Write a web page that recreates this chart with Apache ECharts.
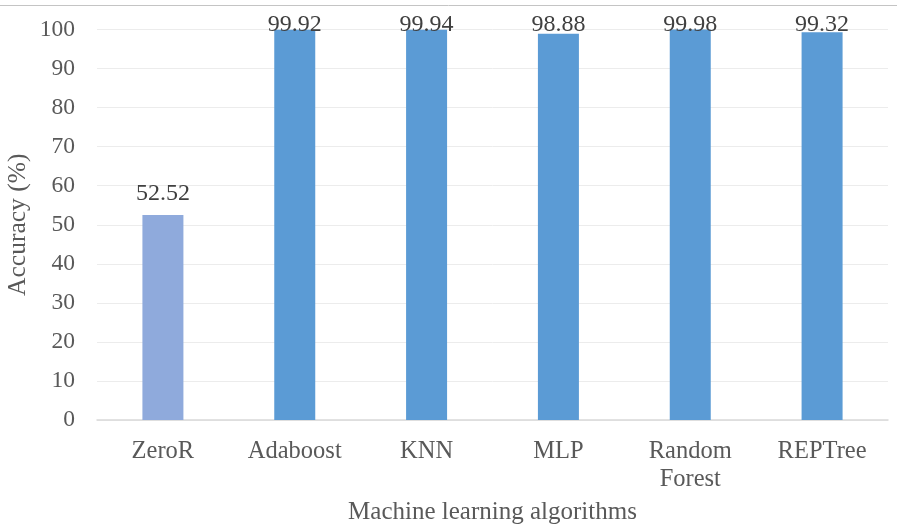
<!DOCTYPE html>
<html>
<head>
<meta charset="utf-8">
<script src="https://cdn.jsdelivr.net/npm/echarts@6/dist/echarts.min.js"></script>
<style>
  html, body { margin: 0; padding: 0; background: #fff; }
  #chart { width: 897px; height: 526px; }
</style>
</head>
<body>
<div id="chart"></div>
<script>
// Accuracy of each classifier
const categories = ['ZeroR', 'Adaboost', 'KNN', 'MLP', 'Random\nForest', 'REPTree'];
const accuracy = [52.52, 99.92, 99.94, 98.88, 99.98, 99.32];
const yTicks = { min: 0, max: 100, interval: 10 };

const FONT = '"Liberation Serif", "Times New Roman", serif';
const baseColor = '#5B9BD5';
const baselineColor = '#8FAADC';   // the ZeroR reference model

const chart = echarts.init(document.getElementById('chart'), null, { renderer: 'canvas' });

function buildData(distances) {
  return accuracy.map((v, i) => ({
    value: v,
    itemStyle: { color: i === 0 ? baselineColor : baseColor },
    label: { distance: distances ? distances[i] : 9 }
  }));
}

const option = {
  animation: false,
  backgroundColor: '#ffffff',
  textStyle: { fontFamily: FONT },
  graphic: [{
    type: 'line',
    shape: { x1: 0, y1: 5.5, x2: 897, y2: 5.5 },
    style: { stroke: '#c4c4c4', lineWidth: 1 },
    silent: true
  }],
  grid: {
    left: 97, right: 9, top: 29.5, bottom: 106,
    containLabel: false, outerBoundsMode: 'none'
  },
  xAxis: {
    type: 'category',
    data: categories,
    axisLine: { show: true, lineStyle: { color: '#d9d9d9', width: 1.5 } },
    axisTick: { show: false },
    axisLabel: {
      color: '#595959', fontFamily: FONT, fontSize: 24.5,
      margin: 18, lineHeight: 28, interval: 0
    },
    name: 'Machine learning algorithms',
    nameLocation: 'middle',
    nameGap: 80,
    nameMoveOverlap: false,
    nameTextStyle: { color: '#595959', fontFamily: FONT, fontSize: 25 }
  },
  yAxis: {
    type: 'value',
    min: yTicks.min, max: yTicks.max, interval: yTicks.interval,
    axisLine: { show: false },
    axisTick: { show: false },
    splitLine: { lineStyle: { color: '#ececec', width: 1 } },
    axisLabel: { color: '#595959', fontFamily: FONT, fontSize: 23.5, margin: 22 },
    name: 'Accuracy (%)',
    nameLocation: 'middle',
    nameGap: 66,
    nameMoveOverlap: false,
    nameRotate: 90,
    nameTextStyle: { color: '#595959', fontFamily: FONT, fontSize: 25.5 }
  },
  series: [{
    type: 'bar',
    data: buildData(null),
    barWidth: 41,
    label: {
      show: true, position: 'top',
      color: '#404040', fontFamily: FONT, fontSize: 24,
      formatter: p => p.value.toFixed(2)
    }
  }]
};

chart.setOption(option);

// Labels that would run past the top of the plot sit on one common line
// just below the chart's top edge, overlapping the bar tops.
const labelBottomLimit = 37;
const distances = accuracy.map((v, i) => {
  const py = chart.convertToPixel({ gridIndex: 0 }, [i, v])[1];
  return Math.min(9, py - labelBottomLimit);
});
chart.setOption({ series: [{ data: buildData(distances) }] });
</script>
</body>
</html>
